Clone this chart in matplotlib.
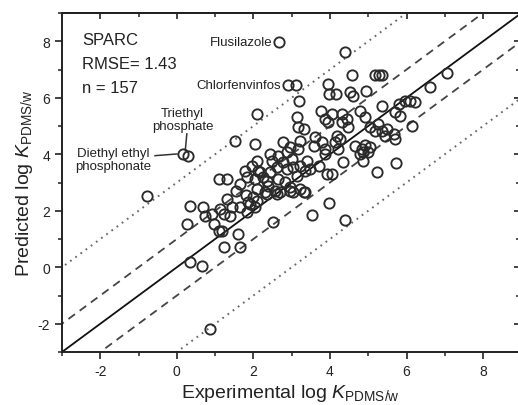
import matplotlib
matplotlib.use("Agg")
import matplotlib.pyplot as plt
from matplotlib.ticker import MultipleLocator

plt.rcParams["font.family"] = ["Liberation Sans", "DejaVu Sans"]
plt.rcParams["mathtext.fontset"] = "custom"
plt.rcParams["mathtext.rm"] = "Liberation Sans"
plt.rcParams["mathtext.it"] = "Liberation Sans:italic"
plt.rcParams["axes.unicode_minus"] = False

# experimental vs predicted log K
exp_logk = [
    2.67, 4.40, 4.58, 5.18, 5.27, 5.36, 2.91, 3.11, 3.94, 3.98,
    4.16, 4.51, 4.61, 4.93, 3.20, 2.09, 3.77, 4.05, 4.31, 3.87,
    3.96, 4.31, 4.44, 4.79, 4.92, 5.35, 5.79, 5.96, 6.09, 6.22,
    6.61, 7.05, 5.70, 5.83, 6.14, 3.14, 3.16, 3.31, 4.46, 5.05,
    5.26, 5.18, 5.35, 5.48, 5.44, 5.66, 5.70, 3.61, 4.18, 4.26,
    3.22, 2.78, 2.96, 3.17, 2.87, 3.57, 3.79, 3.87, 4.13, 4.22,
    4.66, 4.83, 5.05, 5.00, 4.79, 4.35, 4.86, 5.72, 5.24, 3.92,
    4.05, 4.39, 3.98, 3.52, 2.52, 1.52, 2.04, 0.16, 0.28, 1.09,
    1.32, 1.78, 1.83, -0.78, 0.35, 0.69, 0.74, 0.91, 1.13, 1.22,
    1.31, 1.44, 1.39, 1.65, 1.83, 1.87, 0.26, 0.96, 1.09, 1.17,
    1.22, 1.61, 1.65, 0.35, 0.65, 0.87, 1.91, 2.09, 2.04, 2.44,
    2.65, 2.48, 2.78, 3.00, 2.61, 2.87, 3.04, 3.22, 3.39, 3.35,
    3.13, 3.48, 3.70, 2.09, 1.96, 2.13, 2.04, 2.26, 2.39, 2.65,
    2.83, 2.96, 3.04, 3.31, 2.57, 2.31, 2.09, 2.17, 2.44, 2.00,
    2.35, 2.61, 1.55, 1.65, 1.81, 3.87, 2.35, 2.96, 3.22, 3.35,
    2.70, 4.92, 4.87,
]
pred_logk = [
    7.98, 7.61, 6.81, 6.81, 6.81, 6.81, 6.45, 6.45, 6.49, 6.13,
    6.13, 6.19, 6.05, 6.25, 5.90, 5.43, 5.54, 5.43, 5.43, 5.25,
    5.13, 5.13, 5.25, 5.54, 5.31, 5.72, 5.78, 5.90, 5.90, 5.84,
    6.39, 6.88, 5.49, 5.37, 5.01, 5.31, 4.96, 4.90, 4.96, 4.96,
    5.07, 4.84, 4.84, 4.90, 4.66, 4.72, 4.54, 4.60, 4.66, 4.54,
    4.48, 4.42, 4.25, 4.19, 4.07, 4.30, 4.42, 4.19, 4.42, 4.19,
    4.30, 4.19, 4.25, 4.07, 4.01, 3.72, 3.77, 3.68, 3.36, 3.30,
    3.30, 1.69, 2.28, 1.85, 1.59, 4.48, 4.36, 4.01, 3.93, 3.13,
    3.13, 3.42, 3.19, 2.53, 2.16, 2.14, 1.83, 1.89, 2.07, 1.89,
    2.42, 2.12, 1.83, 2.12, 1.95, 2.30, 1.53, 1.53, 1.30, 1.30,
    0.71, 1.18, 0.71, 0.20, 0.06, -2.18, 2.24, 2.36, 2.12, 4.01,
    3.95, 3.77, 3.72, 3.83, 3.54, 3.48, 3.54, 3.60, 3.77, 3.42,
    3.24, 3.48, 3.60, 3.77, 3.60, 3.42, 3.13, 3.19, 2.89, 3.13,
    3.01, 2.83, 2.65, 2.65, 2.71, 2.65, 2.77, 3.36, 3.36, 2.48,
    2.59, 2.59, 2.70, 2.95, 2.56, 4.01, 3.07, 2.71, 2.77, 2.68,
    2.65, 4.31, 4.07,
]

ref_offsets_dashed = [-1, 1]
ref_offsets_dotted = [-3, 3]

stats_text = ["SPARC", "RMSE= 1.43", "n = 157"]

xlim = (-3, 8.95)
ylim = (-3, 9)

fig = plt.figure(figsize=(5.18, 4.06), dpi=100)
ax = fig.add_axes([62 / 518, 53 / 406, 457.5 / 518, 339 / 406])

line_x = [xlim[0] - 1, xlim[1] + 1]
ax.plot(line_x, line_x, color="#111111", lw=1.3, zorder=2)
for off in ref_offsets_dashed:
    ax.plot(line_x, [v + off for v in line_x], color="#444444", lw=1.3,
            linestyle=(0, (4.5, 3.2)), zorder=2)
for off in ref_offsets_dotted:
    ax.plot(line_x, [v + off for v in line_x], color="#666666", lw=1.4,
            linestyle=(0, (0.9, 2.4)), zorder=2)

ax.plot(exp_logk, pred_logk, linestyle="none", marker="o", markersize=7.4,
        markerfacecolor="none", markeredgecolor="#2a2a2a", markeredgewidth=1.35,
        zorder=3)

ax.set_xlim(*xlim)
ax.set_ylim(*ylim)

# ticks: out on bottom/left, mirrored inward on top/right
for axis in (ax.xaxis, ax.yaxis):
    axis.set_major_locator(MultipleLocator(2))
    axis.set_minor_locator(MultipleLocator(1))
ax.tick_params(which="major", direction="out", length=5, width=1.2,
               labelsize=10, pad=3.5, colors="#222222")
ax.tick_params(which="minor", direction="out", length=3, width=1.1, colors="#222222")

top = ax.secondary_xaxis("top")
right = ax.secondary_yaxis("right")
for sec, axis in ((top, top.xaxis), (right, right.yaxis)):
    axis.set_major_locator(MultipleLocator(2))
    axis.set_minor_locator(MultipleLocator(1))
    sec.tick_params(which="major", direction="in", length=4.5, width=1.2,
                    labelleft=False, labelright=False, labeltop=False,
                    labelbottom=False, colors="#222222")
    sec.tick_params(which="minor", direction="in", length=3, width=1.1, colors="#222222")
    for sp in sec.spines.values():
        sp.set_linewidth(1.4)
        sp.set_color("#222222")
for sp in ax.spines.values():
    sp.set_linewidth(1.4)
    sp.set_color("#222222")

ax.set_xlabel(r"Experimental log $\mathit{K}_{\mathrm{PDMS/w}}$", fontsize=14,
              color="#222222", labelpad=3)
ax.set_ylabel(r"Predicted log $\mathit{K}_{\mathrm{PDMS/w}}$", fontsize=14,
              color="#222222", labelpad=2)

# stats block
for txt, yy in zip(stats_text, [8.06, 7.23, 6.36]):
    ax.text(-2.47, yy, txt, fontsize=12, ha="left", va="center", color="#222222")

# labelled compounds
ax.text(exp_logk[0] - 0.16, pred_logk[0], "Flusilazole", fontsize=9.5,
        ha="right", va="center", color="#222222")
ax.text(exp_logk[6] - 0.19, pred_logk[6], "Chlorfenvinfos", fontsize=9.5,
        ha="right", va="center", color="#222222")
ax.text(0.15, 5.23, "Triethyl\nphosphate", fontsize=9.5, ha="center",
        va="center", linespacing=1.05, color="#222222")
ax.text(-1.65, 3.82, "Diethyl ethyl\nphosphonate", fontsize=9.5, ha="center",
        va="center", linespacing=1.05, color="#222222")
ax.plot([0.26, 0.22], [4.72, 4.13], color="#333333", lw=1.1)
ax.plot([-0.57, 0.0], [3.95, 4.01], color="#333333", lw=1.1)

fig.savefig("out.png", dpi=100)
